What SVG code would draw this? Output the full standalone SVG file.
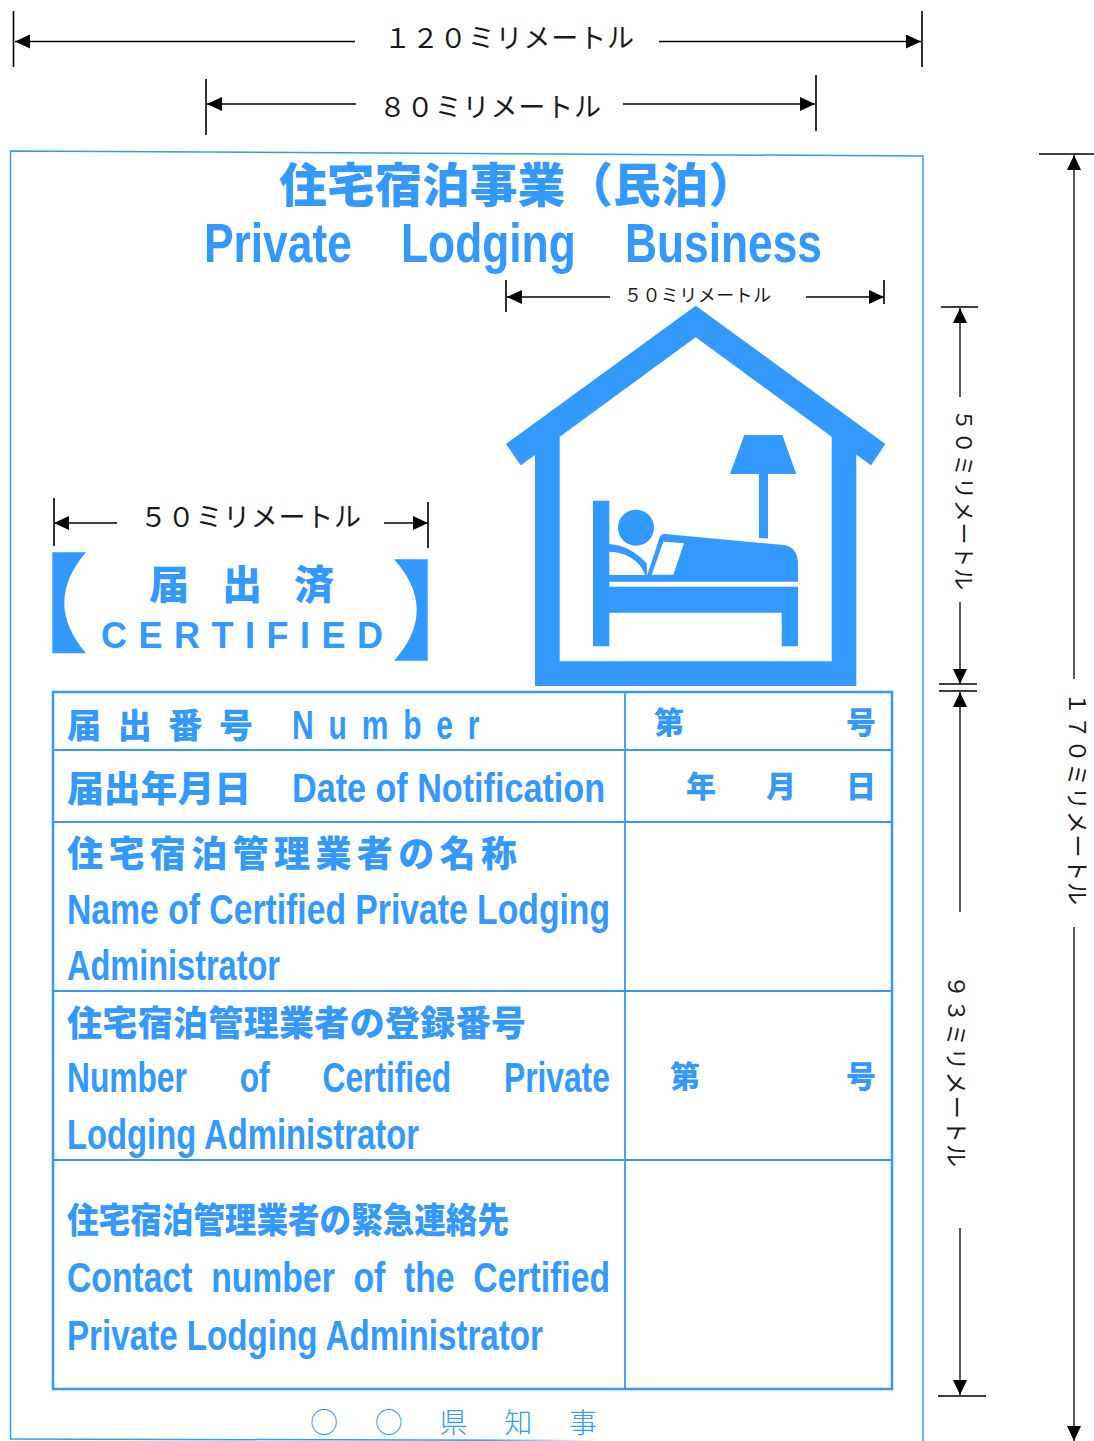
<svg xmlns="http://www.w3.org/2000/svg" width="1094" height="1441" viewBox="0 0 1094 1441">
<style>
.d{font-family:"Noto Sans CJK JP","Liberation Serif",serif;font-weight:400;fill:#1a1a1a}
.j{font-family:"Noto Sans CJK JP","Liberation Sans",sans-serif;font-weight:900;fill:#3399ff}
.l{font-family:"Liberation Sans","Noto Sans CJK JP",sans-serif;font-weight:700;fill:#3399ff}
.b{fill:#3399ff}
.w{fill:#fff}
.f{fill:none;stroke:#3399ff;stroke-width:1.5}
.t{fill:none;stroke:#3399ff;stroke-width:2.5}
.c{fill:none;stroke:#3399ff;stroke-width:1.8}
.e{stroke:#000;stroke-width:1.6;fill:none}
.a{stroke:#000;stroke-width:1.3;fill:none}
.as{marker-start:url(#h)}
.ae{marker-end:url(#h)}
</style>
<defs>
<marker id="h" markerUnits="userSpaceOnUse" markerWidth="16" markerHeight="16" refX="15" refY="7" orient="auto-start-reverse"><path d="M0 0L15 7L0 14z" fill="#000"/></marker>
<linearGradient id="fade" gradientUnits="userSpaceOnUse" x1="10" y1="0" x2="600" y2="0"><stop offset="0.8" stop-color="#3399ff"/><stop offset="1" stop-color="#3399ff" stop-opacity="0"/></linearGradient>
</defs>
<rect width="1094" height="1441" fill="#fff"/>

<g id="sign-frame">
<path class="f" d="M10.5 1439V151L923 156V1441"/>
<path d="M10 1439L600 1440.5" fill="none" stroke="url(#fade)" stroke-width="1.5"/>
</g>

<g id="title">
<text class="j" x="279" y="202" font-size="47" textLength="477" lengthAdjust="spacingAndGlyphs">住宅宿泊事業（民泊）</text>
<text class="l" x="204" y="262" font-size="55" textLength="618" lengthAdjust="spacingAndGlyphs" xml:space="preserve">Private    Lodging    Business</text>
</g>

<g id="house-icon">
<path class="b" fill-rule="evenodd" d="M695.7 305.7L885.3 444L871 465.3L856.3 454.7V686H535V455L520.7 465.3L506 444ZM695.7 337.3L559.7 436.7V661.3H831.7V436.7Z"/>
<path class="b" d="M744.3 435H782.3L796.3 474H730Z"/>
<path class="b" d="M759 474H768V538.5L759 538Z"/>
<path class="b" d="M593 500.7H609.3V581.7H798V563.3C798 552 792 546 783.3 545L665 534C661 534 659 537 658.3 541.7L647.3 575H609.3V551.7C625 552 640 560 645 574.7H647L646.7 563.3C636 552 624 545 609.3 544V586.7H798V612.7H798V646.3H781.7V612.7H609.3V646.3H593Z"/>
<path class="w" d="M663.3 541.7L684 543.3L673.3 574.7H651.7Z"/>
<circle class="b" cx="636" cy="527.7" r="18"/>
</g>

<g id="certified-mark">
<path class="b" d="M52.3 552.3H86Q42.6 603 86 653.3H52.3Z"/>
<path class="b" d="M427.7 559.3H394Q439.4 610 394 660.7H427.7Z"/>
<text class="j" x="149" y="599" font-size="40">届</text>
<text class="j" x="222" y="599" font-size="40">出</text>
<text class="j" x="294" y="599" font-size="40">済</text>
<text class="l" x="101" y="648" font-size="36" textLength="282" lengthAdjust="spacing">CERTIFIED</text>
</g>

<g id="notification-table">
<rect class="t" x="53" y="692" width="839" height="697"/>
<path class="c" d="M53 750H892M53 822H892M53 991H892M53 1160H892M625 692V1389"/>
</g>

<g id="row-number">
<text class="j" x="67" y="738" font-size="34" textLength="186" lengthAdjust="spacing">届出番号</text>
<text class="l" transform="translate(292 739) scale(.75 1)" font-size="40" textLength="250" lengthAdjust="spacing">Number</text>
<text class="j" x="654" y="733" font-size="30">第</text>
<text class="j" x="846" y="733" font-size="30">号</text>
</g>
<g id="row-date">
<text class="j" x="67" y="802" font-size="36" textLength="184" lengthAdjust="spacingAndGlyphs">届出年月日</text>
<text class="l" x="292" y="802" font-size="40" textLength="313" lengthAdjust="spacingAndGlyphs">Date of Notification</text>
<text class="j" x="686" y="797" font-size="30">年</text>
<text class="j" x="766" y="797" font-size="30">月</text>
<text class="j" x="846" y="797" font-size="30">日</text>
</g>
<g id="row-name">
<text class="j" x="67" y="867" font-size="36" textLength="450" lengthAdjust="spacing">住宅宿泊管理業者の名称</text>
<text class="l" x="67" y="924" font-size="42" textLength="543" lengthAdjust="spacingAndGlyphs">Name of Certified Private Lodging</text>
<text class="l" x="67" y="980" font-size="42" textLength="213" lengthAdjust="spacingAndGlyphs">Administrator</text>
</g>
<g id="row-registration">
<text class="j" x="67" y="1036" font-size="35" textLength="459" lengthAdjust="spacing">住宅宿泊管理業者の登録番号</text>
<text class="l" transform="translate(67 1092) scale(.756 1)" font-size="42" textLength="718" lengthAdjust="spacingAndGlyphs" xml:space="preserve">Number      of      Certified      Private</text>
<text class="l" x="67" y="1149" font-size="42" textLength="352" lengthAdjust="spacingAndGlyphs">Lodging Administrator</text>
<text class="j" x="670" y="1087" font-size="30">第</text>
<text class="j" x="846" y="1087" font-size="30">号</text>
</g>
<g id="row-emergency">
<text class="j" x="67" y="1233" font-size="35" textLength="442" lengthAdjust="spacingAndGlyphs">住宅宿泊管理業者の緊急連絡先</text>
<text class="l" x="67" y="1292" font-size="42" textLength="543" lengthAdjust="spacingAndGlyphs" xml:space="preserve">Contact  number  of  the  Certified</text>
<text class="l" x="67" y="1350" font-size="42" textLength="476" lengthAdjust="spacingAndGlyphs">Private Lodging Administrator</text>
</g>

<g id="issuer">
<text x="310" y="1433" font-size="28" textLength="287" lengthAdjust="spacing" xml:space="preserve" style="font-family:'Noto Sans CJK JP',sans-serif;font-weight:300;fill:#3399ff">○　○　県　知　事</text>
</g>

<g id="connectors">
<path class="e" d="M13.5 11V67M922 11V67M206 79V135M816 75V131M506 280V312M884 280V304M54 498V546M428 502V548M941 307H978M939 684H977M939 691H977M938 1396H986M1039 154H1094"/>
<line class="a as" x1="15" y1="41.5" x2="355" y2="41.5"/>
<line class="a ae" x1="659" y1="41.5" x2="921" y2="41.5"/>
<line class="a as" x1="207" y1="104" x2="356" y2="104"/>
<line class="a ae" x1="623" y1="104" x2="815" y2="104"/>
<line class="a as" x1="507" y1="297" x2="610" y2="297"/>
<line class="a ae" x1="806" y1="297" x2="884" y2="297"/>
<line class="a as" x1="54" y1="523" x2="117" y2="523"/>
<line class="a ae" x1="384" y1="523" x2="428" y2="523"/>
<line class="a as" x1="960" y1="308" x2="960" y2="397"/>
<line class="a ae" x1="960" y1="602" x2="960" y2="684"/>
<line class="a as" x1="960" y1="692" x2="960" y2="912"/>
<line class="a ae" x1="960" y1="1228" x2="960" y2="1395"/>
<line class="a as" x1="1074" y1="155" x2="1074" y2="679"/>
<line class="a ae" x1="1074" y1="927" x2="1074" y2="1441"/>
</g>

<g id="dimension-labels">
<text class="d" x="384" y="48" font-size="27" textLength="250" lengthAdjust="spacing">１２０ミリメートル</text>
<text class="d" x="379" y="117" font-size="27" textLength="222" lengthAdjust="spacing">８０ミリメートル</text>
<text class="d" x="624" y="302" font-size="18" textLength="147" lengthAdjust="spacing">５０ミリメートル</text>
<text class="d" x="140" y="527" font-size="27" textLength="221" lengthAdjust="spacing">５０ミリメートル</text>
<text class="d" transform="translate(956 409) rotate(90)" font-size="22" textLength="181" lengthAdjust="spacing">５０ミリメートル</text>
<text class="d" transform="translate(948 975) rotate(90)" font-size="23" textLength="192" lengthAdjust="spacing">９３ミリメートル</text>
<text class="d" transform="translate(1069 692) rotate(90)" font-size="23" textLength="213" lengthAdjust="spacing">１７０ミリメートル</text>
</g>
</svg>
